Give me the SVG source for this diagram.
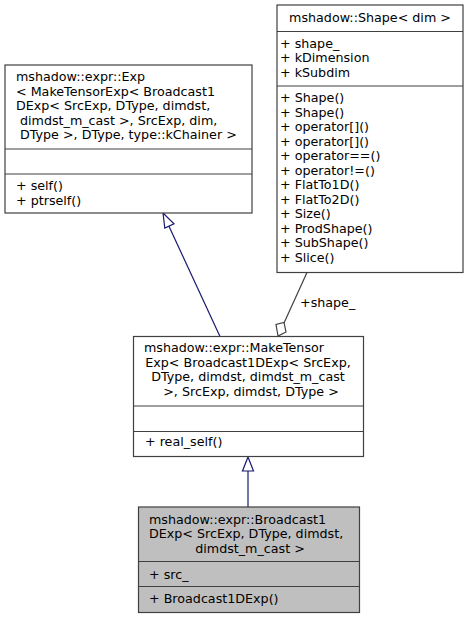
<svg xmlns="http://www.w3.org/2000/svg" width="469" height="619" viewBox="0 0 469 619">
<style>
text{font-family:"DejaVu Sans","Liberation Sans",sans-serif;font-size:12.7px;fill:#000}
.box{fill:#fff;stroke:#404040;stroke-width:1.2}
.cur{fill:#bfbfbf;stroke:#404040;stroke-width:1.2}
.div{stroke:#404040;stroke-width:1.2}
.inh{stroke:#191970;stroke-width:1.2;fill:none}
.inhh{stroke:#191970;stroke-width:1.2;fill:#fff}
.comp{stroke:#404040;stroke-width:1.2;fill:none}
.comph{stroke:#404040;stroke-width:1.2;fill:#fff}
</style>
<rect width="469" height="619" fill="#fff"/>
<g id="connectors">
<path class="inh" d="M220,336.5 L167,222"/>
<polygon class="inhh" points="163,213 174,223.8 164.8,228"/>
<path class="inh" d="M248,507 L248,471"/>
<polygon class="inhh" points="248,457 253.5,471 242.5,471"/>
<path class="comp" d="M307,272.5 L284,323"/>
<polygon class="comph" points="278,336 276,324.5 284,322.5 286,332"/>
<text x="300" y="306.5">+shape_</text>
</g>
<g id="node_exp">
<rect class="box" x="5" y="65" width="247" height="148"/>
<line class="div" x1="5" y1="149" x2="252" y2="149"/>
<line class="div" x1="5" y1="174" x2="252" y2="174"/>
<text x="16" y="81">mshadow::expr::Exp</text>
<text x="16" y="95.5">&lt; MakeTensorExp&lt; Broadcast1</text>
<text x="16" y="110">DExp&lt; SrcExp, DType, dimdst,</text>
<text x="20" y="124.5">dimdst_m_cast &gt;, SrcExp, dim,</text>
<text x="20" y="139">DType &gt;, DType, type::kChainer &gt;</text>
<text x="16" y="190">+ self()</text>
<text x="16" y="204.5">+ ptrself()</text>
</g>
<g id="node_shape">
<rect class="box" x="277" y="5" width="186" height="267.5"/>
<line class="div" x1="277" y1="31.5" x2="463" y2="31.5"/>
<line class="div" x1="277" y1="86" x2="463" y2="86"/>
<text x="370" y="21.5" text-anchor="middle">mshadow::Shape&lt; dim &gt;</text>
<text x="280" y="47.5">+ shape_</text>
<text x="280" y="62">+ kDimension</text>
<text x="280" y="76.5">+ kSubdim</text>
<text x="280" y="102">+ Shape()</text>
<text x="280" y="116.5">+ Shape()</text>
<text x="280" y="131">+ operator[]()</text>
<text x="280" y="145.5">+ operator[]()</text>
<text x="280" y="160">+ operator==()</text>
<text x="280" y="174.5">+ operator!=()</text>
<text x="280" y="189">+ FlatTo1D()</text>
<text x="280" y="203.5">+ FlatTo2D()</text>
<text x="280" y="218">+ Size()</text>
<text x="280" y="232.5">+ ProdShape()</text>
<text x="280" y="247">+ SubShape()</text>
<text x="280" y="261.5">+ Slice()</text>
</g>
<g id="node_maketensor">
<rect class="box" x="133.5" y="336.5" width="230" height="120"/>
<line class="div" x1="133.5" y1="406" x2="363.5" y2="406"/>
<line class="div" x1="133.5" y1="431.5" x2="363.5" y2="431.5"/>
<text x="144" y="352">mshadow::expr::MakeTensor</text>
<text x="248" y="366.5" text-anchor="middle">Exp&lt; Broadcast1DExp&lt; SrcExp,</text>
<text x="248" y="381" text-anchor="middle">DType, dimdst, dimdst_m_cast</text>
<text x="251" y="395.5" text-anchor="middle">&gt;, SrcExp, dimdst, DType &gt;</text>
<text x="145" y="445.5">+ real_self()</text>
</g>
<g id="node_broadcast">
<rect class="cur" x="138.5" y="507" width="221" height="105.5"/>
<line class="div" x1="138.5" y1="561.5" x2="359.5" y2="561.5"/>
<line class="div" x1="138.5" y1="586.5" x2="359.5" y2="586.5"/>
<text x="149" y="523.5">mshadow::expr::Broadcast1</text>
<text x="149" y="538">DExp&lt; SrcExp, DType, dimdst,</text>
<text x="250" y="552.5" text-anchor="middle">dimdst_m_cast &gt;</text>
<text x="149" y="579">+ src_</text>
<text x="149" y="602.5">+ Broadcast1DExp()</text>
</g>
</svg>
